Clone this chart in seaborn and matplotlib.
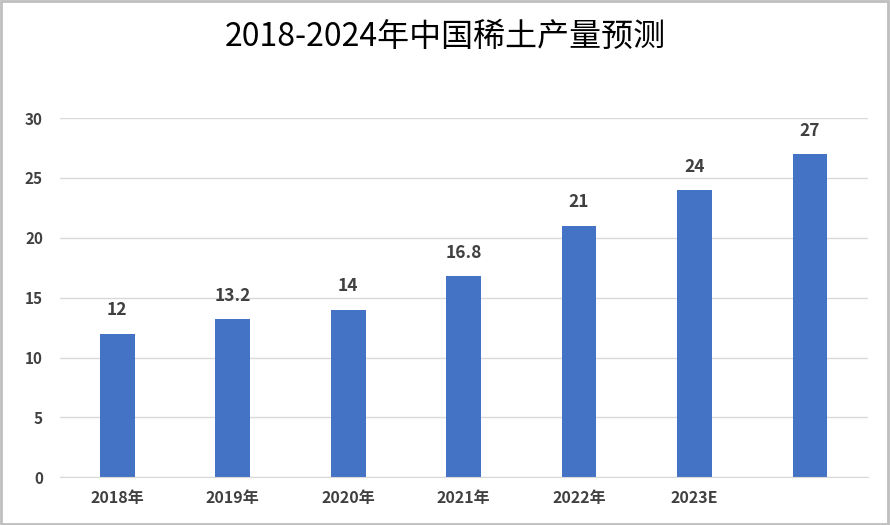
import matplotlib
matplotlib.use('Agg')
import matplotlib.pyplot as plt
import seaborn as sns
import pandas as pd

categories = ['2018年', '2019年', '2020年', '2021年', '2022年', '2023E', '2024E']
tick_labels = ['2018年', '2019年', '2020年', '2021年', '2022年', '2023E', '']
values = [12, 13.2, 14, 16.8, 21, 24, 27]
value_labels = ['12', '13.2', '14', '16.8', '21', '24', '27']

plt.rcParams['font.family'] = 'Noto Sans CJK SC'
df = pd.DataFrame({'cat': categories, 'val': values})

fig = plt.figure(figsize=(8.9, 5.25), dpi=100)
ax = fig.add_axes([0.067, 0.091, 0.908, 0.684])
sns.barplot(data=df, x='cat', y='val', color='#4472C4', saturation=1, width=0.3, ax=ax)

for i, (v, lab) in enumerate(zip(values, value_labels)):
    ax.text(i, v + 1.2, lab, ha='center', va='bottom', fontsize=12.5,
            fontweight='bold', color='#404040')

ax.set_ylim(0, 30)
ax.set_yticks(range(0, 31, 5))
ax.set_xticks(range(len(categories)))
ax.set_xticklabels(tick_labels, fontsize=11.5, fontweight='bold', color='#404040')
ax.tick_params(axis='y', labelsize=11, colors='#404040', length=0, pad=12)
ax.tick_params(axis='x', length=0, pad=9)
for lab in ax.get_yticklabels():
    lab.set_fontweight('bold')
ax.set_xlabel('')
ax.set_ylabel('')
ax.grid(axis='y', color='#D9D9D9', linewidth=1)
ax.set_axisbelow(True)
for s in ['top', 'right', 'left']:
    ax.spines[s].set_visible(False)
ax.spines['bottom'].set_color('#D9D9D9')

fig.text(0.5, 0.93, '2018-2024年中国稀土产量预测', ha='center', va='center',
         fontsize=23, color='black')
fig.patches.append(plt.Rectangle((0.001, 0.002), 0.997, 0.996, transform=fig.transFigure,
                                 fill=False, edgecolor='#BFBFBF', linewidth=2))
fig.savefig('out.png', dpi=100)
